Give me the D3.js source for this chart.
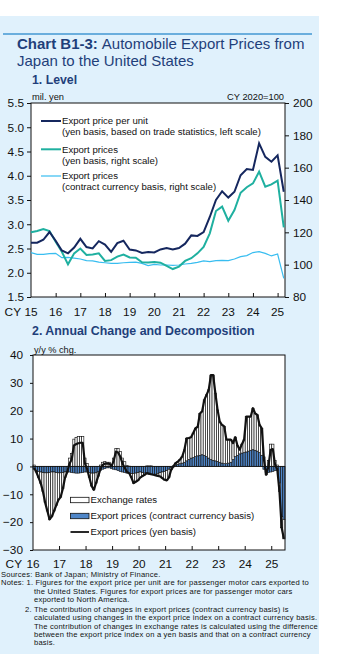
<!DOCTYPE html>
<html>
<head>
<meta charset="utf-8">
<script src="https://cdnjs.cloudflare.com/ajax/libs/d3/7.8.5/d3.min.js"></script>
<style>
	body { margin: 0; background: #fff; }
	svg { display: block; font-family: "Liberation Sans", Arial, sans-serif; }
</style>
</head>
<body>
<div id="chart"></div>
<script>
// ---- 1. Level (quarterly, 2015Q1 - 2025Q2)
const quarters = d3.range(42).map(i => `${2015 + Math.floor(i / 4)}Q${i % 4 + 1}`)
const unitPrice = [2.62, 2.62, 2.68, 2.84, 2.66, 2.46, 2.40, 2.52, 2.70, 2.53, 2.50, 2.65,
	2.58, 2.43, 2.61, 2.66, 2.48, 2.46, 2.41, 2.43, 2.42, 2.48, 2.51, 2.48,
	2.51, 2.60, 2.77, 2.76, 2.84, 3.15, 3.50, 3.68, 3.55, 3.67, 4.01, 4.14,
	4.12, 4.67, 4.39, 4.29, 4.42, 3.67]
const yenIndex = [120, 120.8, 122, 120.8, 114.2, 108, 100.2, 107, 110, 106, 106.3, 107,
	102.3, 102.8, 105, 106.3, 104.5, 104.3, 101.5, 101.3, 101.7, 101.2, 99.2, 97.3,
	98.8, 102.3, 104, 107, 111, 119.4, 133.2, 135.9, 127.2, 133.8, 144.5, 147.9,
	150.3, 157.5, 148.2, 149.7, 152, 123]
const contractIndex = [107.4, 106.4, 106.4, 106.8, 107, 104.3, 104.5, 104, 103.5, 102.5, 102.3, 101.6,
	101.2, 100.8, 100.8, 101.2, 101.4, 101.6, 100.8, 99.4, 100.2, 99.8, 99.8, 99.6,
	99.8, 100.4, 100.8, 101.4, 102.3, 101.9, 102.5, 102.7, 102.5, 103.5, 105, 105.6,
	107.5, 108, 107, 105.4, 106.6, 91.5]
const leftTicks = [1.5, 2.0, 2.5, 3.0, 3.5, 4.0, 4.5, 5.0, 5.5]
const rightTicks = [80, 100, 120, 140, 160, 180, 200]
const topYears = [15, 16, 17, 18, 19, 20, 21, 22, 23, 24, 25]

// ---- 2. Annual change (monthly, 2016/01 - 2025/06), y/y % chg.
const months = d3.range(114).map(i => `${2016 + Math.floor(i / 12)}/${i % 12 + 1}`)
const yenChg = [-0.5, -2, -4, -6, -9, -13, -16, -19, -18, -16, -14, -12,
	-11, -8, -4, -2, 1, 2.5, 7.5, 8, 8.3, 8.5, 8.5, 1,
	-1, -4, -7, -8.4, -6, -3.5, -1, 0.5, 1, 1, 1, 0,
	2, 5.3, 5, 3.5, 1, -0.5, -2, -2.4, -4, -6, -5.5, -5,
	-4, -3.5, -3, -2.4, -2.6, -2.8, -3, -3.2, -3.4, -3.6, -4.2, -4.8,
	-5, -4, -1.2, 0, 1.2, 1.7, 2.5, 3.5, 6, 10.1, 10.2, 10.5,
	12, 13.7, 14.2, 19, 19.7, 23.9, 25.7, 27.5, 32.8, 32.8, 26.3, 20.3,
	16, 14.9, 14.4, 9.6, 9.6, 9.6, 8.4, 10.5, 7.5, 6, 8, 9.6,
	17.9, 17.9, 17.9, 20.9, 19, 18.5, 14.9, 13.7, 2.4, -3, 0, 6,
	6.2, 0.6, -1, -9, -22, -26]
const contractChg = [-1.0, -1.5, -1.8, -2.0, -2.2, -2.3, -2.3, -2.2, -2.0, -2.0, -2.2, -2.3,
	-2.3, -2.2, -2.0, -2.0, -2.0, -2.2, -2.3, -2.4, -2.4, -2.3, -2.2, -2.0,
	-2.0, -2.2, -2.4, -2.4, -2.3, -2.0, -1.5, -1.0, -0.8, -0.5, -0.5, -0.8,
	-1.0, -1.2, -1.5, -1.8, -2.0, -2.2, -2.4, -2.5, -2.6, -2.5, -2.4, -2.2,
	-2.0, -2.2, -2.4, -2.6, -2.8, -3.0, -3.0, -2.8, -2.5, -2.2, -2.0, -1.8,
	-1.5, -1.0, -0.5, 0.2, 0.5, 0.8, 1.0, 1.2, 1.5, 2.0, 2.5, 3.0,
	3.2, 3.5, 3.8, 4.0, 4.2, 4.0, 3.5, 3.0, 2.5, 2.2, 2.0, 1.8,
	1.5, 1.2, 1.0, 1.0, 1.2, 1.5, 2.5, 3.5, 4.0, 4.5, 4.8, 5.0,
	5.2, 5.5, 5.8, 6.0, 5.8, 5.5, 5.0, 4.0, -1.0, -2.0, -2.2, -2.0,
	-1.8, -1.5, -1.5, -6, -18, -19]
const chgTicks = [-30, -20, -10, 0, 10, 20, 30, 40]
const bottomYears = [16, 17, 18, 19, 20, 21, 22, 23, 24, 25]

const notes = [
	{ x: 1, t: 'Sources: Bank of Japan; Ministry of Finance.' },
	{ x: 1, t: 'Notes: 1. Figures for the export price per unit are for passenger motor cars exported to' },
	{ x: 34, t: 'the United States. Figures for export prices are for passenger motor cars' },
	{ x: 34, t: 'exported to North America.' },
	{ x: 25, t: '2. The contribution of changes in export prices (contract currency basis) is' },
	{ x: 34, t: 'calculated using changes in the export price index on a contract currency basis.' },
	{ x: 34, t: 'The contribution of changes in exchange rates is calculated using the difference' },
	{ x: 34, t: 'between the export price index on a yen basis and that on a contract currency' },
	{ x: 34, t: 'basis.' }
]

const W = 363, H = 654
const navy = '#15275e', teal = '#1fb0a0', sky = '#38bdf0', titleCol = '#1f3f7a', blue = '#4f86c8'

const svg = d3.select('#chart').append('svg').attr('width', W).attr('height', H)

svg.append('rect').attr('x', 0).attr('y', 16).attr('width', 319).attr('height', H - 16).attr('fill', '#e0f1fc')
svg.append('line').attr('x1', 3).attr('x2', 312).attr('y1', 34).attr('y2', 34)
	.attr('stroke', '#6aaedd').attr('stroke-width', 2)

// title: bold part and plain part as two texts side by side
const tBold = svg.append('text').attr('x', 17).attr('y', 49.2).attr('font-size', 15).attr('font-weight', 'bold')
	.attr('fill', titleCol).text('Chart B1-3:')
svg.append('text').attr('x', 17 + tBold.node().getComputedTextLength() + 4).attr('y', 49.2).attr('font-size', 15)
	.attr('fill', titleCol).text('Automobile Export Prices from')
svg.append('text').attr('x', 17).attr('y', 65.7).attr('font-size', 15).attr('fill', titleCol).text('Japan to the United States')

svg.append('text').attr('x', 32).attr('y', 83.5).attr('font-size', 12.3).attr('font-weight', 'bold')
	.attr('fill', titleCol).text('1. Level')

// ---------- top chart
const t = { l: 31, r: 285, t: 103, b: 297 }
const xq = d3.scaleLinear().domain([2015, 2025.3]).range([t.l, t.r])
const yl = d3.scaleLinear().domain([1.5, 5.5]).range([t.b, t.t])
const yr = d3.scaleLinear().domain([80, 200]).range([t.b, t.t])
const qx = i => xq(2015 + i / 4)

svg.append('rect').attr('x', t.l).attr('y', t.t).attr('width', t.r - t.l).attr('height', t.b - t.t).attr('fill', '#fff')

svg.append('g').attr('transform', `translate(${t.l},0)`)
	.call(d3.axisLeft(yl).tickValues(leftTicks).tickFormat(d3.format('.1f')).tickSize(4).tickPadding(3))
svg.append('g').attr('transform', `translate(${t.r},0)`)
	.call(d3.axisRight(yr).tickValues(rightTicks).tickSize(4).tickPadding(4))
svg.append('g').attr('transform', `translate(0,${t.b})`)
	.call(d3.axisTop(xq).tickValues(topYears.slice(1).map(d => 2000 + d)).tickSize(4).tickFormat(''))
svg.selectAll('.domain').remove()
svg.selectAll('.tick text').attr('font-size', 11.8).attr('fill', '#111').attr('font-family', null)
svg.selectAll('.tick line').attr('stroke', '#111')
svg.append('rect').attr('x', t.l).attr('y', t.t).attr('width', t.r - t.l).attr('height', t.b - t.t)
	.attr('fill', 'none').attr('stroke', '#111').attr('stroke-width', 1)

svg.append('g').selectAll('text').data(topYears).join('text')
	.attr('x', d => xq(2000 + d)).attr('y', 316).attr('text-anchor', 'middle')
	.attr('font-size', 11.8).attr('fill', '#111').text(d => d)
svg.append('text').attr('x', 21).attr('y', 316).attr('text-anchor', 'end').attr('font-size', 11.8).attr('fill', '#111').text('CY')

svg.append('text').attr('x', 32).attr('y', 99.5).attr('font-size', 9.3).attr('fill', '#111').text('mil. yen')
svg.append('text').attr('x', 284).attr('y', 99.5).attr('text-anchor', 'end').attr('font-size', 9.3).attr('fill', '#111').text('CY 2020=100')

const lineL = d3.line().x((d, i) => qx(i)).y(d => yl(d))
const lineR = d3.line().x((d, i) => qx(i)).y(d => yr(d))
svg.append('path').datum(contractIndex).attr('d', lineR).attr('fill', 'none').attr('stroke', sky).attr('stroke-width', 1.2)
svg.append('path').datum(yenIndex).attr('d', lineR).attr('fill', 'none').attr('stroke', teal).attr('stroke-width', 2)
svg.append('path').datum(unitPrice).attr('d', lineL).attr('fill', 'none').attr('stroke', navy).attr('stroke-width', 2)

const topLegend = [
	{ c: navy, w: 2, y: 121, l: ['Export price per unit', '(yen basis, based on trade statistics, left scale)'] },
	{ c: teal, w: 2, y: 149.3, l: ['Export prices', '(yen basis, right scale)'] },
	{ c: sky, w: 1.2, y: 176, l: ['Export prices', '(contract currency basis, right scale)'] }
]
const tl = svg.append('g').selectAll('g').data(topLegend).join('g')
tl.append('line').attr('x1', 41).attr('x2', 61).attr('y1', d => d.y).attr('y2', d => d.y)
	.attr('stroke', d => d.c).attr('stroke-width', d => d.w)
tl.selectAll('text').data(d => d.l.map((s, i) => ({ s, y: d.y + i * 11 }))).join('text')
	.attr('x', 62).attr('y', d => d.y + 3.4).attr('font-size', 9.6).attr('fill', '#111').text(d => d.s)

// ---------- bottom chart
svg.append('text').attr('x', 32).attr('y', 334.5).attr('font-size', 12.4).attr('font-weight', 'bold')
	.attr('fill', titleCol).text('2. Annual Change and Decomposition')
svg.append('text').attr('x', 34).attr('y', 352.5).attr('font-size', 9.2).attr('fill', '#111').text('y/y % chg.')

const b = { l: 33, r: 285, t: 355, b: 550 }
const xm = d3.scaleLinear().domain([0, 114]).range([b.l, b.r])
const yc = d3.scaleLinear().domain([-30, 40]).range([b.b, b.t])

svg.append('rect').attr('x', b.l).attr('y', b.t).attr('width', b.r - b.l).attr('height', b.b - b.t).attr('fill', '#fff')

const rows = months.map((m, i) => ({ i, contract: contractChg[i], fx: yenChg[i] - contractChg[i] }))
const stack = d3.stack().keys(['contract', 'fx']).offset(d3.stackOffsetDiverging)(rows)
const fills = { contract: blue, fx: '#fff' }

svg.append('g').selectAll('g').data(stack).join('g')
	.attr('fill', d => fills[d.key]).attr('stroke', '#111').attr('stroke-width', 0.65)
	.selectAll('rect').data(d => d).join('rect')
	.attr('x', d => xm(d.data.i)).attr('width', xm(1) - xm(0))
	.attr('y', d => yc(Math.max(d[0], d[1]))).attr('height', d => Math.abs(yc(d[0]) - yc(d[1])))

svg.append('line').attr('x1', b.l).attr('x2', b.r).attr('y1', yc(0)).attr('y2', yc(0)).attr('stroke', '#111').attr('stroke-width', 0.8)

svg.append('path').datum(yenChg)
	.attr('d', d3.line().x((d, i) => xm(i + 0.5)).y(d => yc(d)))
	.attr('fill', 'none').attr('stroke', '#111').attr('stroke-width', 2.2).attr('stroke-linejoin', 'round')

const ga = svg.append('g').attr('transform', `translate(${b.l},0)`)
	.call(d3.axisLeft(yc).tickValues(chgTicks).tickSize(3).tickPadding(7))
ga.select('.domain').remove()
ga.selectAll('.tick text').attr('font-size', 11.8).attr('fill', '#111').attr('font-family', null)
ga.selectAll('.tick line').attr('stroke', '#111')
const yearX = d => xm((d - 16) * 12)
svg.append('g').selectAll('line').data(bottomYears.slice(1)).join('line')
	.attr('x1', yearX).attr('x2', yearX).attr('y1', b.b).attr('y2', b.b - 4).attr('stroke', '#111')
svg.append('rect').attr('x', b.l).attr('y', b.t).attr('width', b.r - b.l).attr('height', b.b - b.t)
	.attr('fill', 'none').attr('stroke', '#111').attr('stroke-width', 1)

svg.append('g').selectAll('text').data(bottomYears).join('text')
	.attr('x', d => yearX(d)).attr('y', 568).attr('text-anchor', 'middle')
	.attr('font-size', 11.8).attr('fill', '#111').text(d => d)
svg.append('text').attr('x', 22).attr('y', 568).attr('text-anchor', 'end').attr('font-size', 11.8).attr('fill', '#111').text('CY')

const botLegend = [
	{ k: 'box', f: '#fff', y: 500, s: 'Exchange rates' },
	{ k: 'box', f: blue, y: 516, s: 'Export prices (contract currency basis)' },
	{ k: 'line', y: 532, s: 'Export prices (yen basis)' }
]
const bl = svg.append('g').selectAll('g').data(botLegend).join('g')
bl.filter(d => d.k === 'box').append('rect').attr('x', 70.5).attr('y', d => d.y - 2.7).attr('width', 18.5).attr('height', 5.4)
	.attr('fill', d => d.f).attr('stroke', '#111').attr('stroke-width', 0.8)
bl.filter(d => d.k === 'line').append('line').attr('x1', 70.5).attr('x2', 89).attr('y1', d => d.y).attr('y2', d => d.y)
	.attr('stroke', '#111').attr('stroke-width', 1.8)
bl.append('text').attr('x', 90.5).attr('y', d => d.y + 3.4).attr('font-size', 9.6).attr('fill', '#111').text(d => d.s)

// ---------- notes
svg.append('g').selectAll('text').data(notes).join('text')
	.attr('x', d => d.x).attr('y', (d, i) => 577 + i * 8.4 + (i > 3 ? 1.2 : 0))
	.attr('font-size', 7.6).attr('letter-spacing', 0.2).attr('fill', '#111').text(d => d.t)
</script>
</body>
</html>
